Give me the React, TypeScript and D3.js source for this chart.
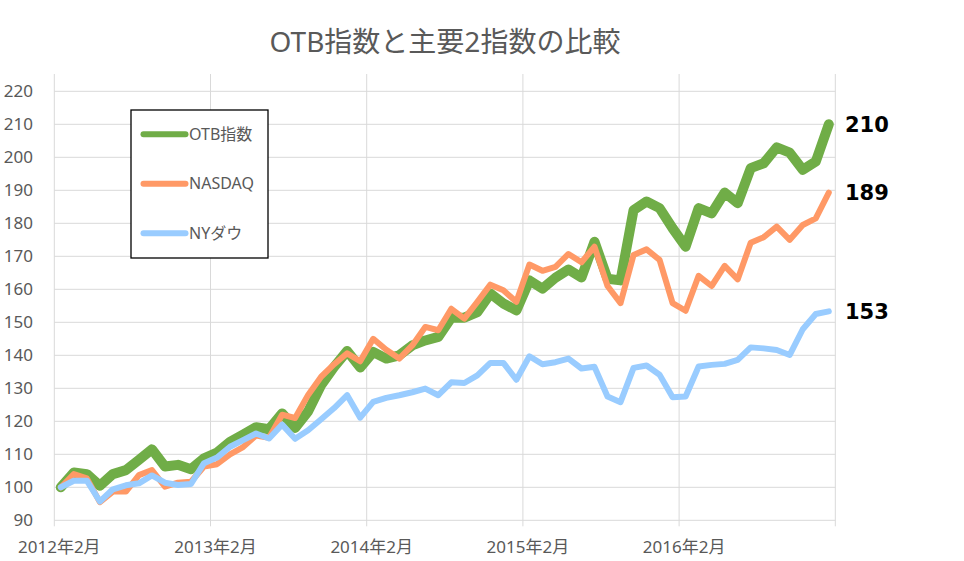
import React from "react";
import * as d3 from "d3";

// 2012年2月 〜 2017年1月 の月次 (2012年2月 = 100)
const otb = [
  100, 104.5, 104, 100.5, 104, 105.2, 108.3, 111.5, 106.3, 106.8, 105.5, 108.8,
  110.5, 113.8, 116, 118.2, 117.6, 122.4, 118, 123, 131, 136.5, 141.3, 136.3,
  141, 139, 140, 143, 144.5, 145.6, 151.4, 151.4, 153.1, 158.7, 155.7, 153.6,
  162.7, 160.2, 163.5, 166, 163.6, 174.4, 163.2, 162.7, 184, 186.6, 184.6, 178.5,
  172.9, 184.6, 183, 189.3, 186.1, 196.7, 198.2, 203, 201.4, 196.2, 198.7, 210,
];
const nasdaq = [
  100, 104, 102.7, 95.5, 98.7, 98.7, 103.7, 105.2, 100.2, 101.4, 101.7, 106.3,
  107, 110, 112.2, 115.7, 115, 122, 121, 128, 133.5, 137.3, 140.6, 138.2,
  145, 141.7, 139, 143, 148.6, 147.6, 154.1, 151.1, 156.2, 161.4, 159.7, 156.2,
  167.5, 165.6, 166.8, 170.7, 168.2, 172.9, 161, 155.8, 170.4, 172.1, 168.9, 155.8,
  153.5, 164.1, 161, 167.1, 163, 174.1, 175.8, 179, 175, 179.5, 181.5, 189.3,
];
const nyDow = [
  100, 102, 102, 95.7, 99.4, 100.6, 101.2, 103.6, 101.4, 100.7, 101, 107.3,
  109, 112.3, 114.3, 116.3, 114.8, 119, 114.7, 117.3, 120.6, 124, 127.9, 121.1,
  125.9, 127.1, 127.9, 128.8, 129.9, 127.9, 131.8, 131.6, 133.9, 137.7, 137.7, 132.6,
  139.7, 137.3, 137.9, 139, 136, 136.5, 127.5, 125.8, 136.2, 136.9, 134.1, 127.3,
  127.5, 136.6, 137.1, 137.4, 138.6, 142.4, 142.1, 141.6, 140.1, 147.9, 152.5, 153.3,
];

const xTickLabels = ["2012年2月", "2013年2月", "2014年2月", "2015年2月", "2016年2月"];
const yTicks = d3.range(90, 221, 10);

const series = [
  { name: "OTB指数", values: otb, color: "#70ad47", width: 10, legendWidth: 6 },
  { name: "NASDAQ", values: nasdaq, color: "#ff9966", width: 6, legendWidth: 6 },
  { name: "NYダウ", values: nyDow, color: "#99ccff", width: 6, legendWidth: 6 },
];

const W = 964;
const H = 561;
const left = 54.3;
const right = 835.3;
const top = 74;
const font = "'Noto Sans', 'Noto Sans CJK JP', sans-serif";
const grey = "#595959";

export default function App() {
  const n = otb.length;
  const x = d3.scaleLinear().domain([0, n]).range([left, right]);
  const y = d3.scaleLinear().domain([90, 220]).range([520.3, 91.3]);

  const line = d3
    .line<number>()
    .x((_, i) => x(i + 0.5))
    .y((d) => y(d));

  const monthTicks = d3.range(0, n + 1, 12);

  return (
    <svg
      width={W}
      height={H}
      style={{ position: "absolute", left: 0, top: 0, background: "#fff" }}
      fontFamily={font}
    >
      <rect width={W} height={H} fill="#fff" />

      <text x={445} y={52} textAnchor="middle" fontSize={28} fill={grey}>
        OTB指数と主要2指数の比較
      </text>

      {/* grid */}
      {yTicks.map((t) => (
        <line key={"h" + t} x1={left} x2={right} y1={y(t)} y2={y(t)} stroke="#d9d9d9" strokeWidth={1} />
      ))}
      {monthTicks.map((m) => (
        <line key={"v" + m} x1={x(m)} x2={x(m)} y1={top} y2={y(90) + 6} stroke="#d9d9d9" strokeWidth={1} />
      ))}

      {/* y labels */}
      {yTicks.map((t) => (
        <text key={"yl" + t} x={33} y={y(t)} dy="0.35em" textAnchor="end" fontSize={17} fill={grey}>
          {t}
        </text>
      ))}

      {/* x labels */}
      {xTickLabels.map((lab, i) => (
        <text key={lab} x={x(i * 12) + 5} y={553} textAnchor="middle" fontSize={17} fill={grey}>
          {lab}
        </text>
      ))}

      {/* lines */}
      {series.map((s) => (
        <path
          key={s.name}
          d={line(s.values) ?? ""}
          fill="none"
          stroke={s.color}
          strokeWidth={s.width}
          strokeLinejoin="round"
          strokeLinecap="round"
        />
      ))}

      {/* end values */}
      {series.map((s) => {
        const last = s.values[s.values.length - 1];
        return (
          <text
            key={"end" + s.name}
            x={845}
            y={y(last)}
            dy="0.36em"
            fontSize={21}
            fontWeight="bold"
            fontFamily="'DejaVu Sans', sans-serif"
            fill="#000"
          >
            {Math.round(last)}
          </text>
        );
      })}

      {/* legend */}
      <rect x={131} y={110} width={137} height={148} fill="#fff" stroke="#000" strokeWidth={1.3} />
      {series.map((s, i) => {
        const cy = 134.3 + i * 49.5;
        return (
          <g key={"lg" + s.name}>
            <line x1={143.5} x2={185.5} y1={cy} y2={cy} stroke={s.color} strokeWidth={s.legendWidth} strokeLinecap="round" />
            <text x={189} y={cy} dy="0.35em" fontSize={16} fill={grey}>
              {s.name}
            </text>
          </g>
        );
      })}
    </svg>
  );
}
